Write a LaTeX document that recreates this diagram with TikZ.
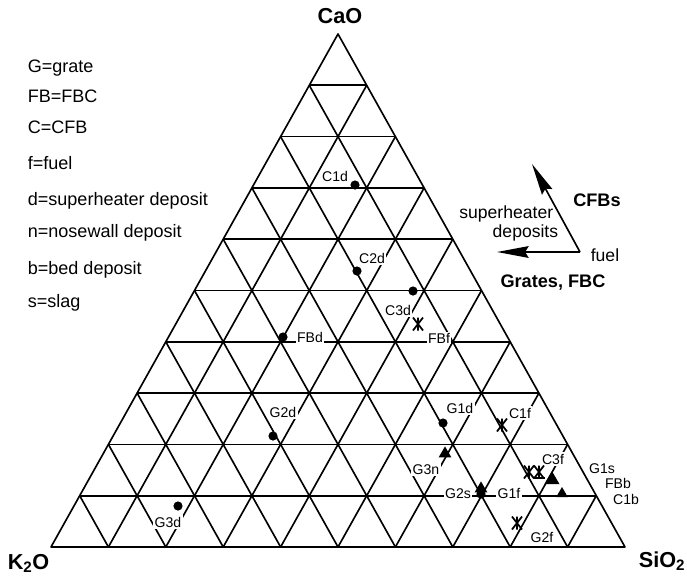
\documentclass[tikz,border=0pt]{standalone}
\usepackage{fontspec}
\setmainfont{Liberation Sans}
\usetikzlibrary{arrows.meta}
\newcommand{\fsz}[1]{\fontsize{#1}{#1}\selectfont}
\begin{document}
\begin{tikzpicture}[x=0.03cm,y=-0.03cm,line join=round,line width=1.4pt,
    lbl/.style={fill=white,inner sep=1.2pt,font=\fsz{12pt}},
    leg/.style={anchor=base west,inner sep=0pt,font=\fsz{15.4pt}},
    axis/.style={inner sep=0pt,font=\fsz{18.5pt}\bfseries},
    key/.style={inner sep=0pt,font=\fsz{15pt}},
    keyarrow/.style={-{Stealth[length=27pt,width=10pt,inset=3pt]}}]
    \useasboundingbox (0,0) rectangle (687,578);
    % corners of the triangle
    \coordinate (K) at (51,547);
    \coordinate (S) at (625,547);
    \coordinate (C) at (338,34);
    \draw (K) -- (S) -- (C) -- cycle;
    % grid, steps of 10%
    \foreach \i in {1,...,9}{
        \draw ({51+\i*28.7},{547-\i*51.3}) -- ({625-\i*28.7},{547-\i*51.3});
        \draw ({51+\i*57.4},547) -- ({51+\i*57.4+(10-\i)*28.7},{547-(10-\i)*51.3});
        \draw ({51+\i*57.4},547) -- ({51+\i*28.7},{547-\i*51.3});
    }
    \node[axis,anchor=base] (cao) at (340,23) {CaO};
    \node[axis,anchor=base west] (k2o) at (7,569) {K\textsubscript{2}O};
    \node[axis,anchor=base west] (sio2) at (638,567) {SiO\textsubscript{2}};
    % legend
    \node[leg] (lgG) at (27,72) {G=grate};
    \node[leg] (lgFB) at (27,102) {FB=FBC};
    \node[leg] (lgC) at (27,133) {C=CFB};
    \node[leg] (lgf) at (27,169) {f=fuel};
    \node[leg] (lgd) at (27,205) {d=superheater deposit};
    \node[leg] (lgn) at (27,237) {n=nosewall deposit};
    \node[leg] (lgb) at (27,274) {b=bed deposit};
    \node[leg] (lgs) at (27,307) {s=slag};
    % sample labels
    \foreach \t/\x/\y in {C1d/335/176, C2d/372/258, C3d/398/310, FBd/310/337,
        FBf/439/338, G2d/283/412, G3d/168/522, G1d/460/408, C1f/520/413,
        G3n/426/470, G2s/458/494, G1f/509/493, C3f/553/459, G2f/542/537}
        \node[lbl] (\t) at (\x,\y) {\t};
    \foreach \t/\x/\y in {G1s/602/469, FBb/618/483, C1b/626/499}
        \node[lbl] (\t) at (\x,\y) {\t};
    \draw (535,478) -- (545,478);
    % deposits
    \foreach \x/\y in {355/185, 357/271, 413/291, 283/337, 273/436, 178/506, 443/423, 481/494}
        \fill (\x,\y) circle(4.6);
    % fuels
    \foreach \x/\y in {418/324, 502/425, 529/472, 539/472, 517/523}
        \draw[line width=1.5pt] (\x,\y) +(0,-6.5) -- +(0,6.5) +(-5,-6.5) -- +(5,6.5) +(5,-6.5) -- +(-5,6.5);
    % nosewall, slag, bed
    \foreach \x/\y/\s in {445/453/1.1, 481/488/1.1, 552/479/1.3, 562/493/1}
        \fill (\x,\y) ++(0,{-6*\s}) -- ++({5.8*\s},{10*\s}) -- ++({-11.6*\s},0) -- cycle;
    % direction key
    \coordinate (fc) at (580,252);
    \coordinate (shtip) at (497,252);
    \coordinate (cfbtip) at (532,164);
    \draw[keyarrow] (fc) -- (shtip);
    \draw[keyarrow] (fc) -- (cfbtip);
    \node[key,anchor=base east] (sh1) at (554,218) {superheater};
    \node[key,anchor=base east] (sh2) at (559,237) {deposits};
    \node[key,anchor=base] (fuel) at (605,261) {fuel};
    \node[key,anchor=base,font=\fsz{15.5pt}\bfseries] (cfbs) at (597,206) {CFBs};
    \node[key,anchor=base,font=\fsz{15.5pt}\bfseries] (grates) at (553,287) {Grates, FBC};
\end{tikzpicture}
\end{document}
